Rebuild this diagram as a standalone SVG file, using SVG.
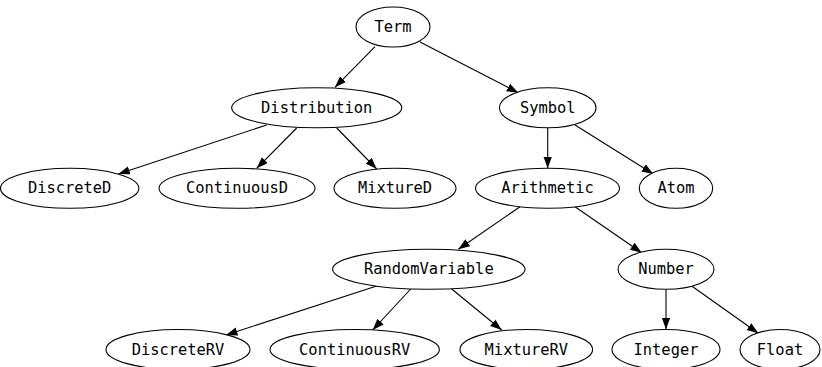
<svg xmlns="http://www.w3.org/2000/svg" width="822" height="367" viewBox="0 0 822 367">
<style>
.n ellipse{fill:#fff;stroke:#000;stroke-width:1.1}
.n text{font-family:"DejaVu Sans Mono","Liberation Mono",monospace;font-size:15.4px;text-anchor:middle;fill:#000}
.e line{stroke:#000;stroke-width:1.1;marker-end:url(#ah)}
</style>
<defs>
<marker id="ah" markerUnits="userSpaceOnUse" markerWidth="12" markerHeight="9" refX="11.5" refY="4.2" orient="auto">
<path d="M0,0 L11.5,4.2 L0,8.4 z" fill="#000"/>
</marker>
</defs>
<rect width="822" height="367" fill="#fff"/>
<g id="edges" class="e">
<line x1="375" y1="46.7" x2="335" y2="87.3"/>
<line x1="420" y1="42" x2="518.3" y2="92.7"/>
<line x1="266.7" y1="125" x2="118.3" y2="174"/>
<line x1="296.7" y1="128" x2="256.7" y2="168.3"/>
<line x1="336.7" y1="128" x2="376.7" y2="169"/>
<line x1="547.7" y1="128" x2="547.7" y2="168.3"/>
<line x1="575" y1="125" x2="653.3" y2="174"/>
<line x1="520" y1="206.7" x2="458.3" y2="249.3"/>
<line x1="575" y1="206.7" x2="641.7" y2="252.7"/>
<line x1="376.7" y1="286" x2="226" y2="335"/>
<line x1="410.7" y1="289" x2="372.7" y2="330"/>
<line x1="451.7" y1="289" x2="501.7" y2="330"/>
<line x1="666" y1="289.3" x2="666" y2="329.3"/>
<line x1="691.7" y1="286" x2="758.3" y2="333.3"/>
</g>
<g id="Term" class="n"><ellipse cx="393" cy="27" rx="37" ry="20"/><text x="393" y="32">Term</text></g>
<g id="Distribution" class="n"><ellipse cx="316.7" cy="107.8" rx="85" ry="20"/><text x="316.7" y="112.8">Distribution</text></g>
<g id="Symbol" class="n"><ellipse cx="547.7" cy="107.8" rx="48.3" ry="20"/><text x="547.7" y="112.8">Symbol</text></g>
<g id="DiscreteD" class="n"><ellipse cx="69.7" cy="188.3" rx="69.2" ry="20"/><text x="69.7" y="193.3">DiscreteD</text></g>
<g id="ContinuousD" class="n"><ellipse cx="237" cy="188.3" rx="78" ry="20"/><text x="237" y="193.3">ContinuousD</text></g>
<g id="MixtureD" class="n"><ellipse cx="395" cy="188.3" rx="61" ry="20"/><text x="395" y="193.3">MixtureD</text></g>
<g id="Arithmetic" class="n"><ellipse cx="547.5" cy="188.3" rx="72" ry="20"/><text x="547.5" y="193.3">Arithmetic</text></g>
<g id="Atom" class="n"><ellipse cx="676" cy="188.3" rx="36.7" ry="20"/><text x="676" y="193.3">Atom</text></g>
<g id="RandomVariable" class="n"><ellipse cx="428.8" cy="269.3" rx="96.2" ry="20"/><text x="428.8" y="274.3">RandomVariable</text></g>
<g id="Number" class="n"><ellipse cx="666" cy="269.3" rx="48" ry="20"/><text x="666" y="274.3">Number</text></g>
<g id="DiscreteRV" class="n"><ellipse cx="178" cy="349.5" rx="72" ry="20"/><text x="178" y="354.5">DiscreteRV</text></g>
<g id="ContinuousRV" class="n"><ellipse cx="354.7" cy="349.5" rx="84.7" ry="20"/><text x="354.7" y="354.5">ContinuousRV</text></g>
<g id="MixtureRV" class="n"><ellipse cx="526.3" cy="349.5" rx="66.3" ry="20"/><text x="526.3" y="354.5">MixtureRV</text></g>
<g id="Integer" class="n"><ellipse cx="666" cy="349.5" rx="54" ry="20"/><text x="666" y="354.5">Integer</text></g>
<g id="Float" class="n"><ellipse cx="780" cy="349.5" rx="40" ry="20"/><text x="780" y="354.5">Float</text></g>
</svg>
